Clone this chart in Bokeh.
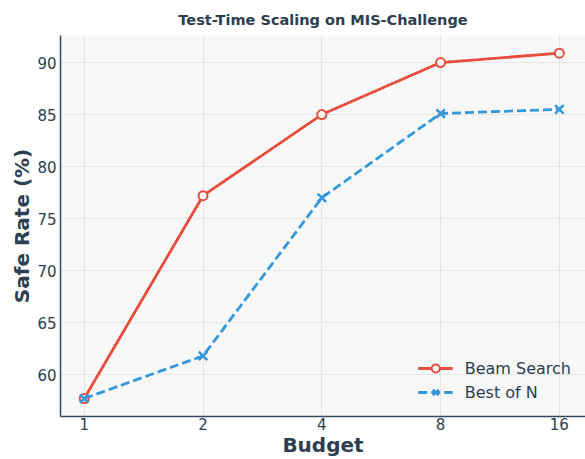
import numpy as np
from bokeh.plotting import figure
from bokeh.models import FixedTicker, Range1d, Legend, LegendItem
from bokeh.embed import file_html
from bokeh.resources import INLINE

budgets = [1, 2, 4, 8, 16]
budget_labels = ["1", "2", "4", "8", "16"]
beam_search = [57.7, 77.2, 85.0, 90.0, 90.9]
best_of_n = [57.7, 61.8, 77.0, 85.1, 85.5]
y_ticks = [60, 65, 70, 75, 80, 85, 90]

x = list(np.log2(budgets))

RED = "#e74c3c"
BLUE = "#3498db"
TEXT = "#2c3e50"
FONT = "DejaVu Sans"

p = figure(width=585, height=459, output_backend="svg", toolbar_location=None,
           x_range=Range1d(-0.2, 4.22), y_range=Range1d(55.97, 92.6),
           min_border_left=60, min_border_top=35, min_border_right=0, min_border_bottom=42)

p.title.text = "Test-Time Scaling on MIS-Challenge"
p.title.align = "center"
p.title.vertical_align = "top"
p.title.text_font = FONT
p.title.text_font_size = "14.5px"
p.title.text_font_style = "bold"
p.title.text_color = TEXT
p.title.standoff = 12

p.background_fill_color = "#f8f8f8"
p.border_fill_color = "white"
p.outline_line_color = None

p.xaxis.ticker = FixedTicker(ticks=x)
p.xaxis.major_label_overrides = {float(v): l for v, l in zip(x, budget_labels)}
p.yaxis.ticker = FixedTicker(ticks=y_ticks)

for ax in (p.xaxis[0], p.yaxis[0]):
    ax.axis_line_color = "#34495e"
    ax.axis_line_width = 1.5
    ax.major_tick_line_color = None
    ax.minor_tick_line_color = None
    ax.major_tick_out = 0
    ax.major_tick_in = 0
    ax.minor_tick_out = 0
    ax.minor_tick_in = 0
    ax.major_label_text_font = FONT
    ax.major_label_text_font_size = "15px"
    ax.major_label_text_color = TEXT
    ax.axis_label_text_font = FONT
    ax.axis_label_text_font_size = "20px"
    ax.axis_label_text_font_style = "bold"
    ax.axis_label_text_color = TEXT

p.xaxis.axis_label = "Budget"
p.yaxis.axis_label = "Safe Rate (%)"
p.xaxis.axis_label_standoff = 0
p.yaxis.axis_label_standoff = 0
p.xaxis.major_label_standoff = 1
p.yaxis.major_label_standoff = 4

p.grid.grid_line_color = "#e6e6e6"
p.grid.grid_line_width = 1

l1 = p.line(x, beam_search, line_color=RED, line_width=2.8)
s1 = p.scatter(x, beam_search, marker="circle", size=9, line_color=RED,
               fill_color="white", line_width=2)
l2 = p.line(x, best_of_n, line_color=BLUE, line_width=2.8, line_dash="9 4")
s2 = p.scatter(x, best_of_n, marker="x", size=12, line_color=BLUE, line_width=2.5)

legend = Legend(items=[LegendItem(label="Beam Search", renderers=[l1, s1]),
                       LegendItem(label="Best of N", renderers=[l2, s2])],
                location="bottom_right")
legend.border_line_color = None
legend.background_fill_alpha = 0.0
legend.label_text_font = FONT
legend.label_text_font_size = "16px"
legend.label_text_color = TEXT
legend.glyph_width = 35
legend.label_standoff = 12
legend.spacing = 4
legend.margin = 14
p.add_layout(legend)

open("out.html", "w").write(file_html(p, INLINE))
